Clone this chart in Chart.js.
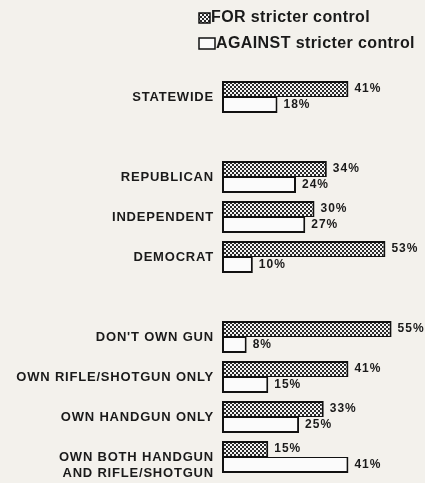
<!DOCTYPE html>
<html>
<head>
<meta charset="utf-8">
<script src="https://cdn.jsdelivr.net/npm/chart.js@4"></script>
<style>
  body { margin: 0; background: #f3f1ec; }
  canvas { display: block; }
</style>
</head>
<body>
<canvas id="gunChart" width="425" height="483"></canvas>
<script>
// rows, blank strings leave the gaps between groups
const categories = [
    'STATEWIDE',
    '',
    'REPUBLICAN',
    'INDEPENDENT',
    'DEMOCRAT',
    '',
    "DON'T OWN GUN",
    'OWN RIFLE/SHOTGUN ONLY',
    'OWN HANDGUN ONLY',
    ['', 'OWN BOTH HANDGUN', 'AND RIFLE/SHOTGUN']
];
const forValues = [41, null, 34, 30, 53, null, 55, 41, 33, 15];
const againstValues = [18, null, 24, 27, 10, null, 8, 15, 25, 41];
const seriesNames = ['FOR stricter control', 'AGAINST stricter control'];

const FONT = '"Liberation Sans", Arial, sans-serif';

document.addEventListener('DOMContentLoaded', () => {
    const ctx = document.getElementById('gunChart').getContext('2d');

    // little checker dither like the printed screen
    const tile = document.createElement('canvas');
    tile.width = 4;
    tile.height = 4;
    const t = tile.getContext('2d');
    t.fillStyle = '#f4f4f4';
    t.fillRect(0, 0, 4, 4);
    t.fillStyle = '#2a2a2a';
    t.fillRect(0, 0, 2, 2);
    t.fillRect(2, 2, 2, 2);
    const dots = ctx.createPattern(tile, 'repeat');

    const textPlugin = {
        id: 'textPlugin',
        beforeDraw(chart) {
            // spacing for the category labels
            chart.ctx.letterSpacing = '0.8px';
        },
        afterDatasetsDraw(chart) {
            const c = chart.ctx;
            c.save();
            c.letterSpacing = '1px';
            c.font = 'bold 12px ' + FONT;
            c.fillStyle = '#1a1a1a';
            c.textBaseline = 'middle';
            c.textAlign = 'left';
            chart.data.datasets.forEach((ds, i) => {
                chart.getDatasetMeta(i).data.forEach((bar, j) => {
                    const v = ds.data[j];
                    if (v == null) return;
                    c.fillText(v + '%', bar.x + 6, bar.y);
                });
            });

            // legend, stacked at top
            c.letterSpacing = '0.4px';
            c.font = 'bold 16px ' + FONT;
            const rows = [
                { y: 18, x: 211, box: [199, 13, 11, 10], fill: dots },
                { y: 44, x: 216, box: [199, 38, 16, 11], fill: '#fbfbfb' }
            ];
            rows.forEach((r, i) => {
                c.fillStyle = r.fill;
                c.fillRect(...r.box);
                c.strokeStyle = '#111';
                c.lineWidth = 1.5;
                c.strokeRect(...r.box);
                c.fillStyle = '#1a1a1a';
                c.fillText(seriesNames[i], r.x, r.y);
            });
            c.restore();
        }
    };

    new Chart(ctx, {
        type: 'bar',
        data: {
            labels: categories,
            datasets: [{
                label: seriesNames[0],
                data: forValues,
                backgroundColor: dots,
                borderColor: '#111',
                borderWidth: { top: 2, left: 2, right: 2, bottom: 1 },
                borderSkipped: false
            }, {
                label: seriesNames[1],
                data: againstValues,
                backgroundColor: '#fbfbfb',
                borderColor: '#111',
                borderWidth: { top: 1, left: 2, right: 2, bottom: 2 },
                borderSkipped: false
            }]
        },
        options: {
            indexAxis: 'y',
            responsive: false,
            animation: false,
            layout: {
                padding: { top: 77, bottom: 6, left: 0, right: 18 }
            },
            datasets: {
                bar: {
                    categoryPercentage: 0.8,
                    barPercentage: 1.0
                }
            },
            plugins: {
                legend: { display: false },
                tooltip: { enabled: false }
            },
            scales: {
                x: {
                    display: false,
                    min: 0,
                    max: 60
                },
                y: {
                    grid: { display: false, drawTicks: false },
                    border: { display: false },
                    ticks: {
                        padding: 8,
                        color: '#1a1a1a',
                        autoSkip: false,
                        font: {
                            family: FONT,
                            size: 13,
                            weight: 'bold',
                            lineHeight: '16px'
                        }
                    },
                    afterFit(scale) {
                        scale.width = 222;
                        scale.paddingTop = 0;
                        scale.paddingBottom = 0;
                    }
                }
            }
        },
        plugins: [textPlugin]
    });
});
</script>
</body>
</html>
